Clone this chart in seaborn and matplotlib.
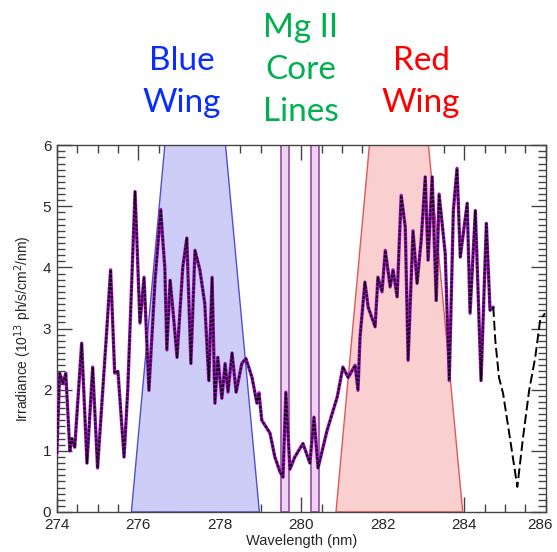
import numpy as np
import pandas as pd
import seaborn as sns
import matplotlib.pyplot as plt
from matplotlib.transforms import ScaledTranslation

# spectrum (solid part, with purple underlay)
wave_solid = [274.00, 274.07, 274.15, 274.22, 274.32, 274.37, 274.44, 274.61, 274.74, 274.88,
              275.00, 275.22, 275.32, 275.42, 275.50, 275.65, 275.74, 275.92, 276.04, 276.14,
              276.26, 276.41, 276.55, 276.60, 276.65, 276.70, 276.78, 276.85, 276.95, 277.09,
              277.19, 277.29, 277.39, 277.51, 277.63, 277.73, 277.81, 277.88, 277.95, 278.05,
              278.13, 278.20, 278.30, 278.40, 278.54, 278.64, 278.79, 278.91, 278.96, 279.03,
              279.23, 279.35, 279.48, 279.55, 279.62, 279.72, 279.84, 280.04, 280.21, 280.31,
              280.41, 280.63, 280.88, 281.02, 281.15, 281.32, 281.39, 281.44, 281.56, 281.64,
              281.81, 281.88, 281.98, 282.06, 282.18, 282.25, 282.35, 282.45, 282.55, 282.62,
              282.74, 282.84, 282.94, 283.04, 283.11, 283.21, 283.31, 283.38, 283.53, 283.63,
              283.73, 283.82, 283.90, 284.07, 284.14, 284.27, 284.41, 284.54, 284.63, 284.71]
irr_solid = [0.95, 2.27, 2.10, 2.27, 1.00, 1.20, 1.06, 2.76, 0.80, 2.37,
             0.72, 2.92, 3.96, 2.27, 2.30, 0.90, 1.99, 5.24, 3.09, 3.84,
             1.99, 3.79, 4.95, 4.45, 4.00, 2.65, 3.79, 3.30, 2.53, 4.00,
             4.48, 2.43, 4.28, 3.96, 3.41, 2.15, 3.84, 1.78, 2.53, 1.86,
             2.43, 1.96, 2.60, 1.96, 2.43, 2.51, 2.20, 1.78, 1.95, 1.50,
             1.29, 0.90, 0.65, 0.57, 1.96, 0.70, 0.90, 1.12, 0.80, 1.55,
             0.72, 1.33, 1.88, 2.37, 2.20, 2.40, 1.99, 2.86, 3.76, 3.35,
             3.03, 3.84, 3.60, 4.28, 3.68, 3.96, 3.52, 5.18, 4.66, 2.48,
             4.60, 3.74, 4.44, 5.48, 4.12, 5.48, 3.46, 5.20, 4.23, 2.15,
             4.93, 5.62, 4.17, 5.05, 3.25, 4.93, 2.15, 4.72, 3.30, 3.35]

# dashed continuation
wave_dash = [284.71, 284.76, 284.85, 284.95, 285.10, 285.30, 285.44, 285.59, 285.74, 285.86, 285.98]
irr_dash = [3.35, 2.80, 2.20, 1.94, 1.29, 0.41, 1.22, 1.99, 2.53, 3.14, 3.25]

# band outlines
blue_wing = [(275.83, 0), (276.65, 6), (278.14, 6), (278.97, 0)]
red_wing = [(280.85, 0), (281.67, 6), (283.12, 6), (283.96, 0)]
core_lines = [(279.49, 279.69), (280.24, 280.44)]

solid = pd.DataFrame({"wave": wave_solid, "irr": irr_solid})
dash = pd.DataFrame({"wave": wave_dash, "irr": irr_dash})

sns.set_style("ticks")
plt.rcParams['font.family'] = ['Liberation Sans', 'DejaVu Sans']

fig = plt.figure(figsize=(5.57, 5.52), dpi=100)
ax = fig.add_axes([0.102, 0.0725, 0.878, 0.6645])

# shaded bands
ax.fill([p[0] for p in blue_wing], [p[1] for p in blue_wing],
        facecolor='#cdcdf7', edgecolor='#5050d0', lw=1, zorder=1)
ax.fill([p[0] for p in red_wing], [p[1] for p in red_wing],
        facecolor='#f9cfcf', edgecolor='#e05858', lw=1, zorder=1)
for lo, hi in core_lines:
    ax.axvspan(lo, hi, facecolor='#ecd3f0', edgecolor='#9a4aa8', lw=1.2, zorder=1)

sns.lineplot(data=solid, x="wave", y="irr", sort=False, color='#a010c0', lw=2.4, ax=ax, zorder=3)
sns.lineplot(data=solid, x="wave", y="irr", sort=False, color='black', lw=1.3, ax=ax, zorder=4)
ax.lines[-1].set_linestyle((0, (1.5, 0.8)))
sns.lineplot(data=dash, x="wave", y="irr", sort=False, color='black', lw=1.4, ax=ax, zorder=4)
ax.lines[-1].set_linestyle((0, (5, 2)))

ax.set_xlim(274, 286)
ax.set_ylim(0, 6)
ax.set_xticks(np.arange(274, 287, 2))
ax.set_xticks(np.arange(274, 286.01, 0.5), minor=True)
ax.set_yticks(np.arange(0, 7, 1))
ax.set_yticks(np.arange(0, 6.01, 0.1), minor=True)
ax.tick_params(which='both', direction='in', top=True, right=True, color='#444444')
ax.tick_params(which='major', length=11, width=1, labelsize=11, pad=4)
ax.tick_params(which='minor', length=5.5, width=1)
for s in ax.spines.values():
    s.set_color('#444444')
    s.set_linewidth(1)

# keep the last x label inside the canvas
last = ax.get_xticklabels()[-1]
last.set_transform(last.get_transform() + ScaledTranslation(-4 / 72, 0, fig.dpi_scale_trans))

ax.set_xlabel("Wavelength (nm)", fontsize=10.5, labelpad=2)
ax.set_ylabel("Irradiance (10$^{13}$ ph/s/cm$^2$/nm)", fontsize=10, labelpad=6)

# band titles
fig.text(0.327, 0.852, "Blue\nWing", color='#0a2cff', fontsize=24, family='Lato',
         ha='center', va='center', linespacing=1.5)
fig.text(0.540, 0.874, "Mg II\nCore\nLines", color='#00b050', fontsize=24, family='Lato',
         ha='center', va='center', linespacing=1.5)
fig.text(0.756, 0.852, "Red\nWing", color='#ff0000', fontsize=24, family='Lato',
         ha='center', va='center', linespacing=1.5)

fig.savefig("out.png", dpi=100)
